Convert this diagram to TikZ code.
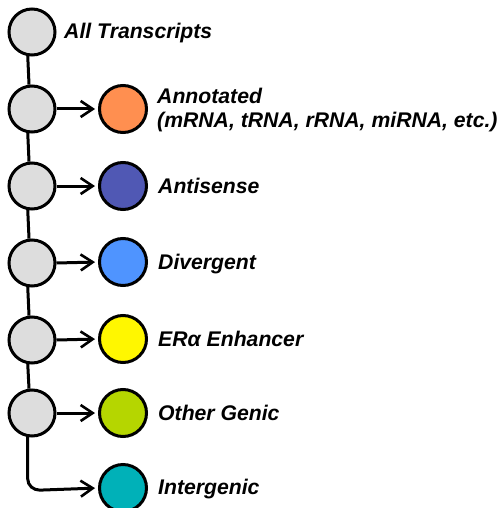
\documentclass[tikz,border=0pt]{standalone}
\usepackage{fontspec}
\setmainfont{Liberation Sans}
\usetikzlibrary{arrows.meta}
\definecolor{cgray}{HTML}{DDDDDD}
\definecolor{corange}{HTML}{FF8F50}
\definecolor{cnavy}{HTML}{5058B4}
\definecolor{cblue}{HTML}{4F94FF}
\definecolor{cyellow}{HTML}{FFF700}
\definecolor{clime}{HTML}{B5D600}
\definecolor{cteal}{HTML}{00B1B8}
\tikzset{
  gcirc/.style={circle, draw=black, line width=3pt, fill=cgray, minimum size=46pt, inner sep=0pt},
  ccirc/.style={circle, draw=black, line width=3pt, minimum size=47pt, inner sep=0pt},
  lbl/.style={anchor=west, font=\fontsize{21.2pt}{24pt}\selectfont\bfseries\itshape, inner sep=0pt, align=left},
  link/.style={line width=3pt, draw=black},
  arr/.style={line width=3pt, draw=black, shorten >=3pt, -{Straight Barb[length=12pt,width=16pt,line width=2.6pt]}}
}
\begin{document}
\begin{tikzpicture}[x=1pt,y=1pt]
\useasboundingbox (0,0) rectangle (502,-508);
\node[gcirc] (g0) at (32,-32) {};
\node[gcirc] (g1) at (32,-109) {};
\node[gcirc] (g2) at (32,-186) {};
\node[gcirc] (g3) at (32,-263) {};
\node[gcirc] (g4) at (32,-340) {};
\node[gcirc] (g5) at (32,-413) {};
\node[ccirc, fill=corange] (c1) at (123,-109) {};
\node[ccirc, fill=cnavy] (c2) at (123,-186) {};
\node[ccirc, fill=cblue] (c3) at (123,-262) {};
\node[ccirc, fill=cyellow] (c4) at (123,-339) {};
\node[ccirc, fill=clime] (c5) at (123,-413) {};
\node[ccirc, fill=cteal] (c6) at (123,-488) {};
\node[lbl] (t0) at (64,-33) {All Transcripts};
\node[lbl] (t1) at (157,-110) {Annotated\\(mRNA, tRNA, rRNA, miRNA, etc.)};
\node[lbl] (t2) at (158,-186) {Antisense};
\node[lbl] (t3) at (158,-264) {Divergent};
\node[lbl] (t4) at (158,-339) {ERα Enhancer};
\node[lbl] (t5) at (158,-413) {Other Genic};
\node[lbl] (t6) at (158,-489) {Intergenic};
\draw[link] (g0.-100) -- (g1.97);
\draw[link] (g1.-100) -- (g2.97);
\draw[link] (g2.-100) -- (g3.97);
\draw[link] (g3.-100) -- (g4.97);
\draw[link] (g4.-100) -- (g5.97);
\foreach \i in {1,...,5} {\draw[arr] (g\i.east) -- (c\i.west);}
\draw[arr] (g5.-100) -- ++(0,-42) to[out=-90,in=180] ++(12,-11) -- (c6.west);
\end{tikzpicture}
\end{document}
